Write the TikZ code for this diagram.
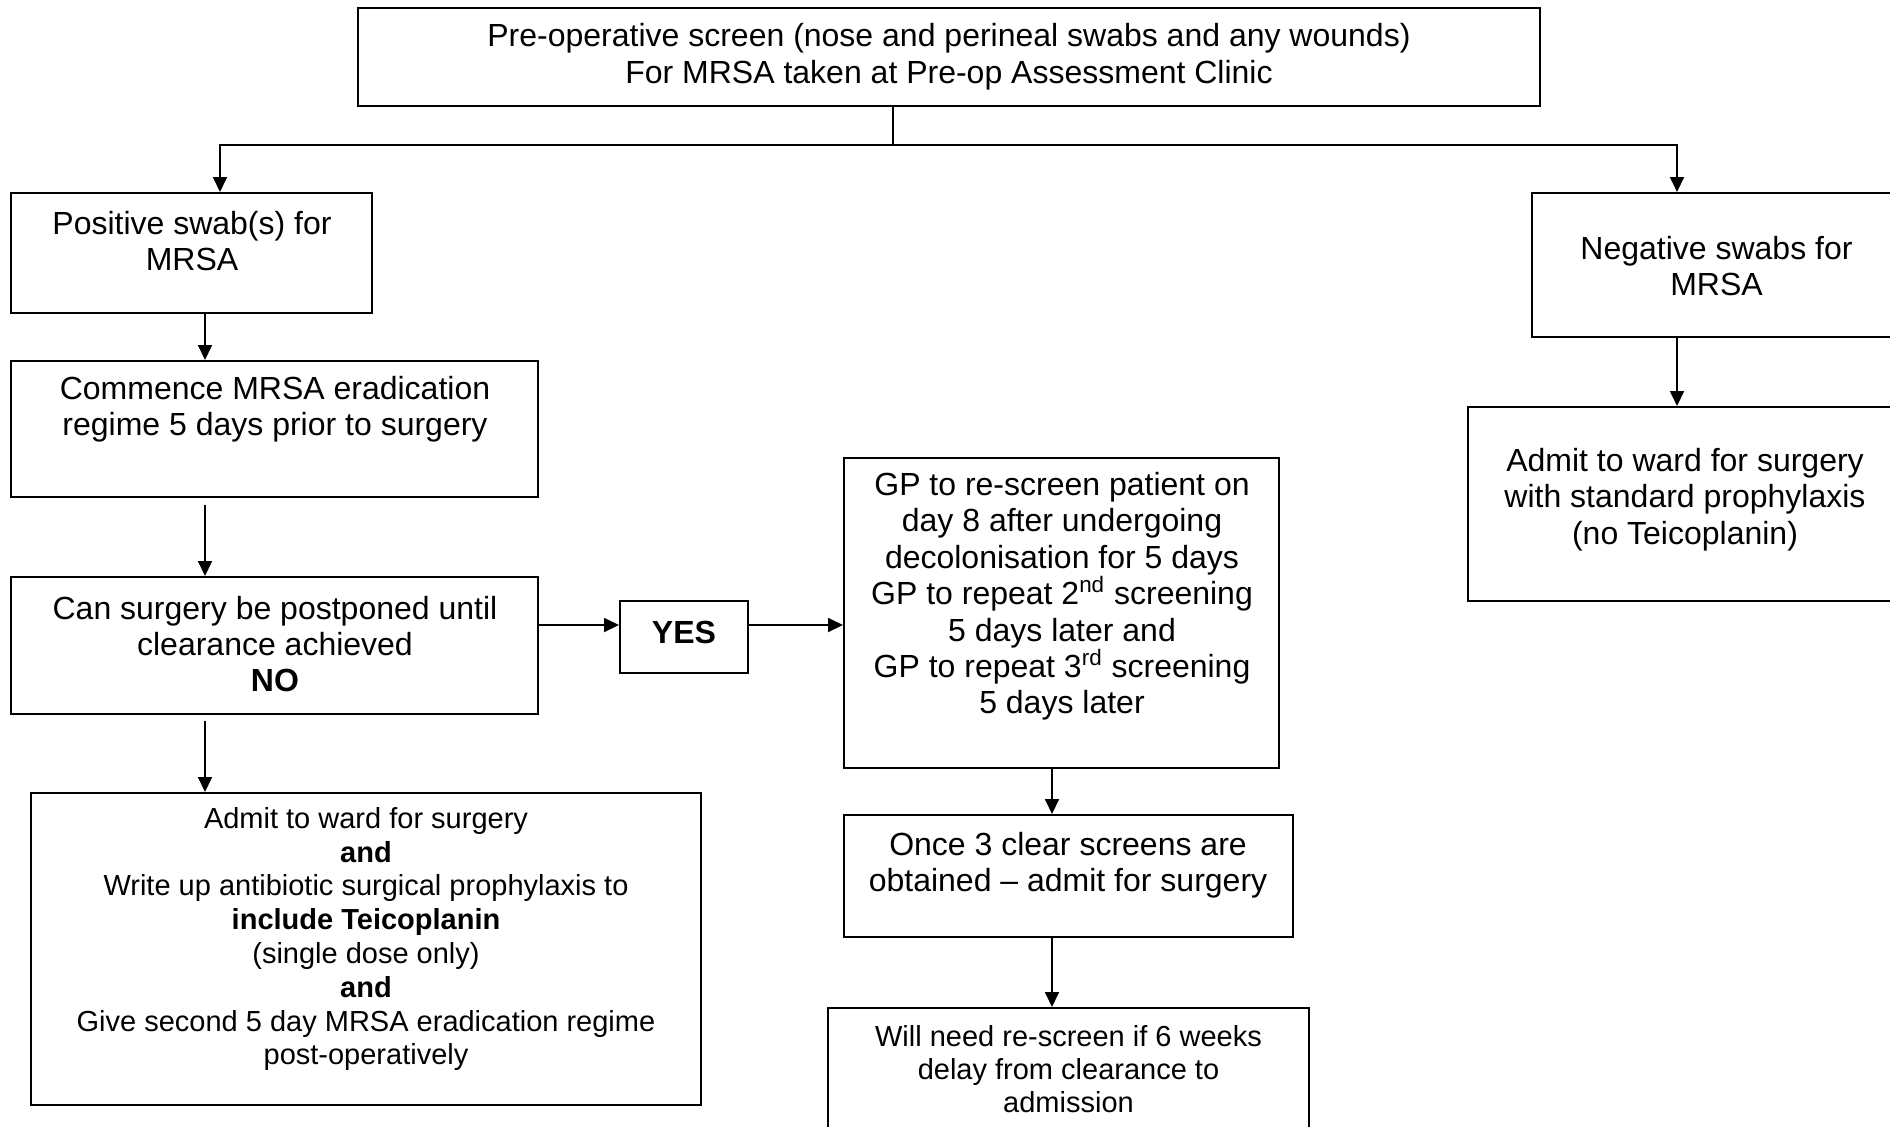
\documentclass[tikz,border=0pt]{standalone}
\usepackage{fontspec}
\setmainfont{Liberation Sans}
\usetikzlibrary{arrows.meta,fit}

\begin{document}
\begin{tikzpicture}[x=0.5pt,y=-0.5pt,
  box/.style={draw=black, line width=1pt, inner sep=0pt, rectangle},
  big/.style={align=center, inner sep=0pt, font=\fontsize{16}{18.2}\selectfont},
  small/.style={align=center, inner sep=0pt, font=\fontsize{14.5}{16.4}\selectfont},
  link/.style={line width=0.9pt},
  arr/.style={line width=0.9pt, -{Triangle[length=7.5pt,width=7pt]}}]

% canvas
\path[use as bounding box] (0,0) rectangle (1890,1126);
\fill[white] (0,0) rectangle (1890,1126);
\clip (0,0) rectangle (1890,1126);

% screening step
\node[box, fit={(358,8)(1540,106)}] (top) {};
\node[big] (topT) at (949,56.6) {Pre-operative screen (nose and perineal swabs and any wounds)\\For MRSA taken at Pre-op Assessment Clinic};

% positive branch
\node[box, fit={(11,193)(372,313)}] (pos) {};
\node[big] (posT) at (192,241) {Positive swab(s) for\\MRSA};

\node[box, fit={(11,361)(538,497)}] (comm) {};
\node[big] (commT) at (275,409) {Commence MRSA eradication\\regime 5 days prior to surgery};

\node[box, fit={(11,577)(538,714)}] (can) {};
\node[big] (canT) at (275,644) {Can surgery be postponed until\\clearance achieved\\\textbf{NO}};

\node[box, fit={(31,793)(701,1105)}] (adm) {};
\node[small, font=\fontsize{14.5}{16.9}\selectfont] (admT) at (366,939) {Admit to ward for surgery\\\textbf{and}\\Write up antibiotic surgical prophylaxis to\\\textbf{include Teicoplanin}\\(single dose only)\\\textbf{and}\\Give second 5 day MRSA eradication regime\\post-operatively};

\node[box, fit={(620,601)(748,673)}] (yes) {};
\node[big, font=\fontsize{16}{18.2}\selectfont\bfseries] (yesT) at (684,632) {YES};

\node[box, fit={(844,458)(1279,768)}] (gp) {};
\node[big] (gpT) at (1062,596.5) {GP to re-screen patient on\\day 8 after undergoing\\decolonisation for 5 days\\GP to repeat 2\textsuperscript{nd} screening\\5 days later and\\GP to repeat 3\textsuperscript{rd} screening\\5 days later};

\node[box, fit={(844,815)(1293,937)}] (once) {};
\node[big] (onceT) at (1068,865) {Once 3 clear screens are\\obtained -- admit for surgery};

\node[box, fit={(828,1008)(1309,1140)}] (will) {};
\node[small] (willT) at (1068.5,1069) {Will need re-screen if 6 weeks\\delay from clearance to\\admission};

% negative branch
\node[box, fit={(1532,193)(1905,337)}] (neg) {};
\node[big] (negT) at (1716.5,266) {Negative swabs for\\MRSA};

\node[box, fit={(1468,407)(1905,601)}] (admr) {};
\node[big] (admrT) at (1685,499.5) {Admit to ward for surgery\\with standard prophylaxis\\(no Teicoplanin)};

% connectors
\coordinate (split) at (893,145);
\coordinate (lturn) at (220,145);
\coordinate (rturn) at (1677,145);
\coordinate (lcol) at (205,0);
\coordinate (gcol) at (1052,0);
\coordinate (yrow) at (0,625);

\draw[link] (top.south -| split) -- (split);
\draw[arr] (split) -- (lturn) -- (pos.north -| lturn);
\draw[arr] (split) -- (rturn) -- (neg.north -| rturn);
\draw[arr] (neg.south -| rturn) -- (admr.north -| rturn);
\draw[arr] (pos.south -| lcol) -- (comm.north -| lcol);
\draw[arr, shorten <=3.5pt] (comm.south -| lcol) -- (can.north -| lcol);
\draw[arr, shorten <=3pt] (can.south -| lcol) -- (adm.north -| lcol);
\draw[arr] (can.east |- yrow) -- (yes.west |- yrow);
\draw[arr] (yes.east |- yrow) -- (gp.west |- yrow);
\draw[arr] (gp.south -| gcol) -- (once.north -| gcol);
\draw[arr] (once.south -| gcol) -- (will.north -| gcol);
\end{tikzpicture}
\end{document}
